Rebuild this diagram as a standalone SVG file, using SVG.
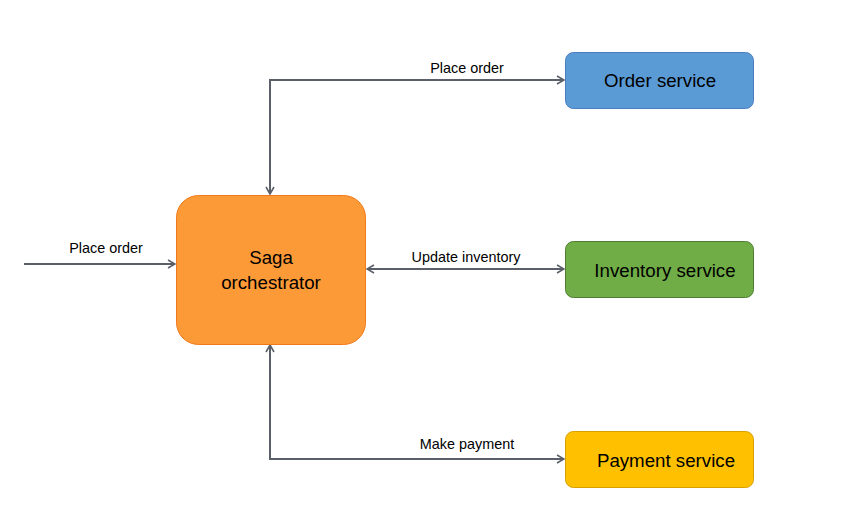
<svg xmlns="http://www.w3.org/2000/svg" width="847" height="529" viewBox="0 0 847 529">
<defs>
<marker id="arr" viewBox="0 0 10 10" refX="9" refY="5" markerWidth="10" markerHeight="10" markerUnits="userSpaceOnUse" orient="auto-start-reverse">
<path d="M2,1 L9,5 L2,9" fill="none" stroke="#5a5f69" stroke-width="1.6"/>
</marker>
<style>
.node text{font-family:"Liberation Sans",Arial,sans-serif;font-size:18.7px;fill:#000;text-anchor:middle}
.lbl{font-family:"Liberation Sans",Arial,sans-serif;font-size:14.4px;fill:#000;text-anchor:middle}
.conn path{fill:none;stroke:#5a5f69;stroke-width:2}
</style>
</defs>
<rect width="847" height="529" fill="#fff"/>
<g id="connectors" class="conn">
<path d="M24,264 H175" marker-end="url(#arr)"/>
<path d="M270,194 V80 H564" marker-start="url(#arr)" marker-end="url(#arr)"/>
<path d="M367,269 H564" marker-start="url(#arr)" marker-end="url(#arr)"/>
<path d="M270,345 V459 H564" marker-start="url(#arr)" marker-end="url(#arr)"/>
<text class="lbl" x="106" y="253">Place order</text>
<text class="lbl" x="467" y="73">Place order</text>
<text class="lbl" x="466" y="262">Update inventory</text>
<text class="lbl" x="467" y="449">Make payment</text>
</g>
<g id="orchestrator" class="node">
<rect x="176.5" y="195.5" width="189" height="149" rx="22" fill="#fd9a38" stroke="#f07a1a" stroke-width="1"/>
<text x="271" y="264">Saga</text>
<text x="271" y="289">orchestrator</text>
</g>
<g id="order" class="node">
<rect x="565.5" y="52.5" width="188" height="56" rx="8" fill="#5b9bd5" stroke="#4a7cc0" stroke-width="1"/>
<text x="660" y="87">Order service</text>
</g>
<g id="inventory" class="node">
<rect x="565.5" y="241.5" width="188" height="56" rx="8" fill="#70ad47" stroke="#4e7d31" stroke-width="1"/>
<text x="665" y="277">Inventory service</text>
</g>
<g id="payment" class="node">
<rect x="565.5" y="431.5" width="188" height="56" rx="8" fill="#ffc000" stroke="#d6a000" stroke-width="1"/>
<text x="666" y="467">Payment service</text>
</g>
</svg>
